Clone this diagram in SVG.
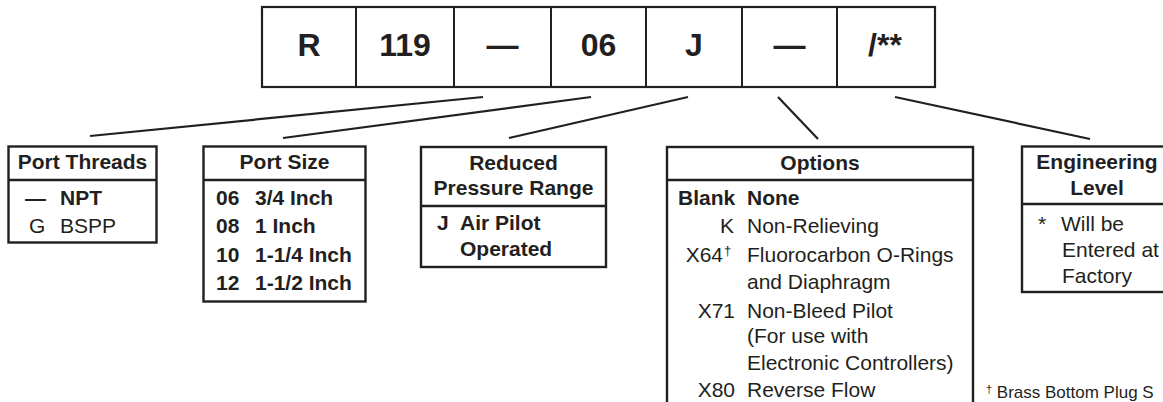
<svg xmlns="http://www.w3.org/2000/svg" width="1163" height="402" viewBox="0 0 1163 402">
<style>
.box{fill:#fff;stroke:#231f20;stroke-width:2.4}
.div{stroke:#231f20;stroke-width:2.4}
.conn line{stroke:#231f20;stroke-width:2.2;stroke-linecap:butt}
text{font-family:"Liberation Sans",Arial,Helvetica,sans-serif;fill:#231f20}
.code{font-size:32px;font-weight:bold;text-anchor:middle}
.h{font-size:21px;font-weight:bold;text-anchor:middle}
.b{font-size:21px;font-weight:bold}
.r{font-size:21px}
.re{font-size:21px;text-anchor:end}
.sup{font-size:13px}
.fn{font-size:17px}
</style>
<rect width="1163" height="402" fill="#fff"/>
<g id="model-code">
<rect class="box" x="262" y="7" width="673" height="80" style="stroke-width:2.2"/>
<line class="div" x1="356" y1="7" x2="356" y2="87" style="stroke-width:2"/>
<line class="div" x1="454" y1="7" x2="454" y2="87" style="stroke-width:2"/>
<line class="div" x1="551" y1="7" x2="551" y2="87" style="stroke-width:2"/>
<line class="div" x1="646" y1="7" x2="646" y2="87" style="stroke-width:2"/>
<line class="div" x1="742" y1="7" x2="742" y2="87" style="stroke-width:2"/>
<line class="div" x1="837" y1="7" x2="837" y2="87" style="stroke-width:2"/>
<text class="code" x="309" y="56">R</text>
<text class="code" x="405" y="56">119</text>
<text class="code" x="502.5" y="56">—</text>
<text class="code" x="598.5" y="56">06</text>
<text class="code" x="694" y="56">J</text>
<text class="code" x="789.5" y="56">—</text>
<text class="code" x="885" y="56">/**</text>
</g>
<g id="connectors" class="conn">
<line x1="90" y1="136" x2="483" y2="97"/>
<line x1="283" y1="138" x2="591" y2="97"/>
<line x1="509" y1="138" x2="688" y2="97"/>
<line x1="778" y1="97" x2="818" y2="139"/>
<line x1="895" y1="97" x2="1090" y2="139"/>
</g>
<g id="port-threads">
<rect class="box" x="8.5" y="146.5" width="148" height="96"/>
<line class="div" x1="8.5" y1="180" x2="156.5" y2="180"/>
<text class="h" x="82.5" y="169">Port Threads</text>
<text class="b" x="25" y="205">—</text>
<text class="b" x="60" y="205">NPT</text>
<text class="r" x="29" y="233">G</text>
<text class="r" x="60" y="233">BSPP</text>
</g>
<g id="port-size">
<rect class="box" x="203.5" y="146.5" width="162" height="155"/>
<line class="div" x1="203.5" y1="180" x2="365.5" y2="180"/>
<text class="h" x="284.5" y="169">Port Size</text>
<text class="b" x="216" y="205">06</text><text class="b" x="255" y="205">3/4 Inch</text>
<text class="b" x="216" y="233">08</text><text class="b" x="255" y="233">1 Inch</text>
<text class="b" x="216" y="262">10</text><text class="b" x="255" y="262">1-1/4 Inch</text>
<text class="b" x="216" y="290">12</text><text class="b" x="255" y="290">1-1/2 Inch</text>
</g>
<g id="reduced-pressure-range">
<rect class="box" x="421" y="147" width="185" height="120"/>
<line class="div" x1="421" y1="206" x2="606" y2="206"/>
<text class="h" x="513.5" y="170">Reduced</text>
<text class="h" x="513.5" y="195">Pressure Range</text>
<text class="b" x="437" y="230">J</text>
<text class="b" x="460" y="230">Air Pilot</text>
<text class="b" x="460" y="256">Operated</text>
</g>
<g id="options">
<rect class="box" x="667" y="147" width="306" height="270"/>
<line class="div" x1="667" y1="180" x2="973" y2="180"/>
<text class="h" x="820" y="170">Options</text>
<text class="b" x="678" y="205">Blank</text>
<text class="b" x="747" y="205">None</text>
<text class="re" x="734" y="233">K</text>
<text class="r" x="747" y="233">Non-Relieving</text>
<text class="re" x="723" y="262">X64</text>
<text class="sup" x="724" y="255">†</text>
<text class="r" x="747" y="262">Fluorocarbon O-Rings</text>
<text class="r" x="747" y="289">and Diaphragm</text>
<text class="re" x="735" y="318">X71</text>
<text class="r" x="747" y="318">Non-Bleed Pilot</text>
<text class="r" x="747" y="343">(For use with</text>
<text class="r" x="747" y="370">Electronic Controllers)</text>
<text class="re" x="735" y="397">X80</text>
<text class="r" x="747" y="397">Reverse Flow</text>
</g>
<g id="engineering-level">
<rect class="box" x="1022" y="146.5" width="160" height="145.5"/>
<line class="div" x1="1022" y1="204" x2="1182" y2="204"/>
<text class="h" x="1097" y="169">Engineering</text>
<text class="h" x="1097" y="195">Level</text>
<text class="r" x="1038" y="231">*</text>
<text class="r" x="1061" y="231">Will be</text>
<text class="r" x="1062" y="257">Entered at</text>
<text class="r" x="1062" y="283">Factory</text>
</g>
<g id="footnote">
<text class="fn" x="986" y="398"><tspan font-size="11" dy="-5">†</tspan><tspan dy="5"> Brass Bottom Plug S</tspan></text>
</g>
</svg>
